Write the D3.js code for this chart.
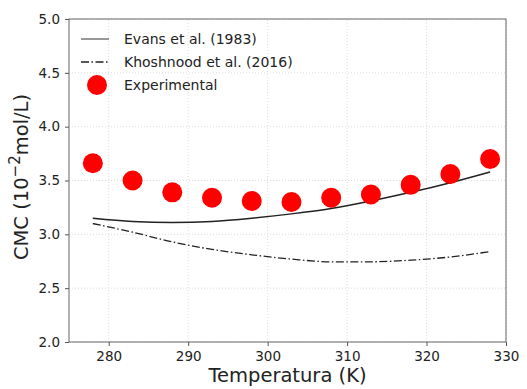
<!DOCTYPE html>
<html>
<head>
<meta charset="utf-8">
<script src="https://cdn.jsdelivr.net/npm/d3@7"></script>
<style>
  body { margin: 0; background: #fff; }
  text { font-family: "DejaVu Sans", sans-serif; fill: #222; }
</style>
</head>
<body>
<div id="chart"></div>
<script>
// Data
const temps = [278, 283, 288, 293, 298, 303, 308, 313, 318, 323, 328];
const experimental = [3.66, 3.50, 3.39, 3.34, 3.31, 3.30, 3.34, 3.37, 3.46, 3.56, 3.70];
const evans = [3.15, 3.12, 3.11, 3.12, 3.15, 3.19, 3.24, 3.31, 3.39, 3.48, 3.58];
const khoshnood = [3.10, 3.02, 2.93, 2.86, 2.81, 2.77, 2.745, 2.745, 2.76, 2.79, 2.84];
const xTicks = [280, 290, 300, 310, 320, 330];
const yTicks = [2.0, 2.5, 3.0, 3.5, 4.0, 4.5, 5.0];

const width = 527, height = 389;
const margin = {top: 19, right: 21, bottom: 47, left: 69};

const svg = d3.select("#chart").append("svg")
    .attr("width", width)
    .attr("height", height);

const x = d3.scaleLinear().domain([275, 330]).range([margin.left, width - margin.right]);
const y = d3.scaleLinear().domain([2, 5]).range([height - margin.bottom, margin.top]);

// Grid
svg.append("g").selectAll("line")
    .data(xTicks)
    .join("line")
    .attr("x1", d => x(d)).attr("x2", d => x(d))
    .attr("y1", y(2)).attr("y2", y(5))
    .attr("stroke", "#ddd").attr("stroke-dasharray", "1,2");
svg.append("g").selectAll("line")
    .data(yTicks)
    .join("line")
    .attr("x1", x(275)).attr("x2", x(330))
    .attr("y1", d => y(d)).attr("y2", d => y(d))
    .attr("stroke", "#ddd").attr("stroke-dasharray", "1,2");

// Axes
const xAxis = svg.append("g")
    .attr("transform", `translate(0,${y(2)})`)
    .call(d3.axisBottom(x).tickValues(xTicks).tickSize(4).tickPadding(5).tickFormat(d3.format("d")));
const yAxis = svg.append("g")
    .attr("transform", `translate(${x(275)},0)`)
    .call(d3.axisLeft(y).tickValues(yTicks).tickSize(4).tickPadding(5).tickFormat(d3.format(".1f")));
[xAxis, yAxis].forEach(a => {
    a.selectAll("text").style("font-size", "13.5px").attr("fill", "#222");
    a.selectAll("line").attr("stroke", "#555");
    a.select(".domain").remove();
});

// Frame
svg.append("rect")
    .attr("x", x(275)).attr("y", y(5))
    .attr("width", x(330) - x(275)).attr("height", y(2) - y(5))
    .attr("fill", "none").attr("stroke", "#666").attr("stroke-width", 1);

const line = d3.line().curve(d3.curveMonotoneX)
    .x((d, i) => x(temps[i]))
    .y(d => y(d));

svg.append("path")
    .datum(evans)
    .attr("fill", "none")
    .attr("stroke", "#222")
    .attr("stroke-width", 1.5)
    .attr("d", line);

svg.append("path")
    .datum(khoshnood)
    .attr("fill", "none")
    .attr("stroke", "#222")
    .attr("stroke-width", 1.3)
    .attr("stroke-dasharray", "8,2.5,1.5,2.5")
    .attr("d", line);

svg.append("g").selectAll("circle")
    .data(experimental)
    .join("circle")
    .attr("cx", (d, i) => x(temps[i]))
    .attr("cy", d => y(d))
    .attr("r", 10)
    .attr("fill", "#f00");

// Legend
const legend = svg.append("g");
legend.append("line").attr("x1", 81).attr("x2", 109).attr("y1", 39).attr("y2", 39)
    .attr("stroke", "#333").attr("stroke-width", 1);
legend.append("line").attr("x1", 81).attr("x2", 109).attr("y1", 62).attr("y2", 62)
    .attr("stroke", "#222").attr("stroke-width", 1.3).attr("stroke-dasharray", "8,2.5,1.5,2.5");
legend.append("circle").attr("cx", 97).attr("cy", 85).attr("r", 10).attr("fill", "#f00");
const labels = ["Evans et al. (1983)", "Khoshnood et al. (2016)", "Experimental"];
legend.selectAll("text")
    .data(labels)
    .join("text")
    .attr("x", 124)
    .attr("y", (d, i) => 44 + i * 23)
    .style("font-size", "14px")
    .text(d => d);

// Axis titles
svg.append("text")
    .attr("x", (x(275) + x(330)) / 2)
    .attr("y", 382)
    .attr("text-anchor", "middle")
    .style("font-size", "19.5px")
    .text("Temperatura (K)");

const yTitle = svg.append("text")
    .attr("transform", `translate(28,177) rotate(-90)`)
    .attr("text-anchor", "middle")
    .style("font-size", "19.5px");
yTitle.append("tspan").text("CMC (10");
yTitle.append("tspan").attr("dy", -8).style("font-size", "15px").text("−2");
yTitle.append("tspan").attr("dy", 8).text("mol/L)");
</script>
</body>
</html>
